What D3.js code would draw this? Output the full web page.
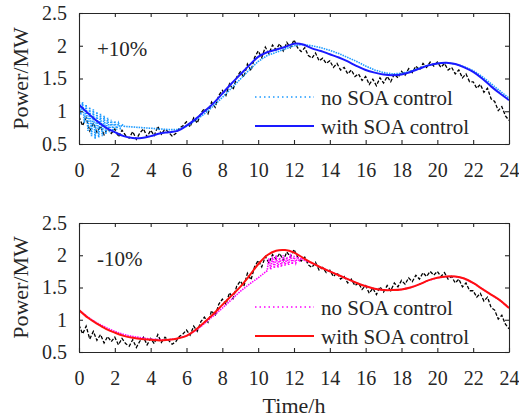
<!DOCTYPE html>
<html>
<head>
<meta charset="utf-8">
<script src="https://cdnjs.cloudflare.com/ajax/libs/d3/7.8.5/d3.min.js"></script>
<style>
  body { margin: 0; background: #fff; }
</style>
</head>
<body>
<div class="chart"></div>
<script>

// actual load, every 0.2 h from 0 to 24
var loadValues = [
  0.92, 0.78, 0.90, 0.70, 0.82,
  0.68, 0.77, 0.64, 0.74, 0.66,
  0.73, 0.61, 0.71, 0.63, 0.59,
  0.69, 0.57, 0.67, 0.73, 0.61,
  0.71, 0.63, 0.77, 0.65, 0.73,
  0.68, 0.62, 0.66, 0.74, 0.78,
  0.84, 0.76, 0.90, 0.82, 0.97,
  1.04, 0.96, 1.14, 1.06, 1.24,
  1.32, 1.24, 1.42, 1.33, 1.52,
  1.60, 1.52, 1.72, 1.62, 1.82,
  1.92, 1.82, 1.98, 1.88, 2.01,
  1.94, 2.03, 1.92, 2.05, 1.97,
  2.09, 1.97, 1.91, 1.97, 1.85,
  1.81, 1.89, 1.77, 1.81, 1.73,
  1.77, 1.67, 1.73, 1.63, 1.67,
  1.57, 1.63, 1.53, 1.57, 1.47,
  1.53, 1.41, 1.49, 1.39, 1.51,
  1.43, 1.53, 1.45, 1.57, 1.51,
  1.61, 1.55, 1.65, 1.59, 1.69,
  1.63, 1.73, 1.67, 1.75, 1.69,
  1.75, 1.67, 1.73, 1.63, 1.67,
  1.57, 1.63, 1.51, 1.57, 1.45,
  1.45, 1.35, 1.41, 1.29, 1.35,
  1.19, 1.15, 1.01, 1.07, 0.93,
  0.86
];

// with SOA control, every 0.5 h
var withSoaPlus = [
  1.10, 0.97, 0.85, 0.75, 0.68, 0.62, 0.59, 0.59, 0.62, 0.66,
  0.68, 0.70, 0.78, 0.88, 1.00, 1.12, 1.27, 1.42, 1.56, 1.70,
  1.83, 1.90, 1.94, 1.98, 2.03, 2.02, 1.96, 1.92, 1.87, 1.82,
  1.76, 1.69, 1.63, 1.59, 1.56, 1.55, 1.56, 1.60, 1.65, 1.70,
  1.73, 1.74, 1.72, 1.67, 1.60, 1.50, 1.38, 1.27, 1.17
];
var withSoaMinus = [
  1.15, 1.03, 0.94, 0.86, 0.80, 0.75, 0.72, 0.70, 0.69, 0.68,
  0.69, 0.71, 0.75, 0.84, 0.96, 1.09, 1.23, 1.37, 1.51, 1.68,
  1.86, 2.00, 2.07, 2.08, 2.04, 1.96, 1.88, 1.81, 1.75, 1.69,
  1.63, 1.57, 1.52, 1.48, 1.46, 1.46, 1.47, 1.50, 1.55, 1.61,
  1.65, 1.67, 1.67, 1.64, 1.57, 1.48, 1.39, 1.30, 1.18
];

// no SOA control, [hour, MW]
var noSoaPlus = [
  [0, 1.18], [0.1, 0.95], [0.2, 1.14], [0.3, 0.82], [0.4, 1.10], [0.5, 0.70],
  [0.6, 1.06], [0.7, 0.62], [0.8, 1.03], [0.9, 0.58], [1.0, 0.99], [1.1, 0.60],
  [1.2, 0.96], [1.3, 0.62], [1.4, 0.93], [1.5, 0.65], [1.6, 0.90], [1.7, 0.68],
  [1.8, 0.87], [1.9, 0.70], [2.0, 0.85], [2.1, 0.72], [2.2, 0.82], [2.3, 0.74],
  [2.4, 0.80], [2.5, 0.77], [3, 0.76], [3.5, 0.75], [4, 0.74], [4.5, 0.73],
  [5, 0.72], [5.5, 0.72], [6, 0.77], [6.5, 0.86], [7, 0.96], [7.5, 1.08],
  [8, 1.21], [8.5, 1.35], [9, 1.49], [9.5, 1.63], [10, 1.76], [10.5, 1.85],
  [11, 1.90], [11.5, 1.95], [12, 2.00], [12.5, 2.02], [13, 2.00], [13.5, 1.97],
  [14, 1.93], [14.5, 1.88], [15, 1.82], [15.5, 1.76], [16, 1.69], [16.5, 1.63],
  [17, 1.59], [17.5, 1.57], [18, 1.58], [18.5, 1.61], [19, 1.66], [19.5, 1.70],
  [20, 1.73], [20.5, 1.74], [21, 1.72], [21.5, 1.68], [22, 1.62], [22.5, 1.53],
  [23, 1.42], [23.5, 1.31], [24, 1.20]
];
var noSoaMinus = [
  [0, 1.15], [0.5, 1.04], [1, 0.95], [1.5, 0.88], [2, 0.82], [2.5, 0.77],
  [3, 0.74], [3.5, 0.72], [4, 0.70], [4.5, 0.69], [5, 0.69], [5.5, 0.71],
  [6, 0.75], [6.5, 0.83], [7, 0.94], [7.5, 1.06], [8, 1.18], [8.5, 1.31],
  [9, 1.44], [9.5, 1.55], [10, 1.65], [10.5, 1.76], [10.6, 1.95], [10.7, 1.78],
  [10.8, 1.98], [10.9, 1.80], [11.0, 2.00], [11.1, 1.81], [11.2, 1.96], [11.3, 1.82],
  [11.4, 2.00], [11.5, 1.84], [11.6, 1.97], [11.7, 1.85], [11.8, 2.02], [11.9, 1.86],
  [12.0, 1.99], [12.1, 1.88], [12.2, 1.98], [12.3, 1.90], [12.4, 1.96], [12.5, 1.93],
  [13, 1.88], [13.5, 1.81], [14, 1.75], [14.5, 1.69], [15, 1.63], [15.5, 1.57],
  [16, 1.52], [16.5, 1.48], [17, 1.46], [17.5, 1.46], [18, 1.47], [18.5, 1.50],
  [19, 1.55], [19.5, 1.61], [20, 1.65], [20.5, 1.67], [21, 1.67], [21.5, 1.64],
  [22, 1.57], [22.5, 1.48], [23, 1.39], [23.5, 1.30], [24, 1.18]
];

var xTicks = [0, 2, 4, 6, 8, 10, 12, 14, 16, 18, 20, 22, 24];
var yTicks = [0.5, 1, 1.5, 2, 2.5];
var legendLabels = ["no SOA control", "with SOA control"];

var svgWidth = 519;
var svgHeight = 419;
var left = 79, right = 509;
var serif = "'Liberation Serif', 'Times New Roman', serif";

var svg = d3.select(".chart").append("svg")
  .attr("width", svgWidth)
  .attr("height", svgHeight);

var loadPts = loadValues.map(function(v, i) { return [i * 0.2, v]; });

function label(sel, size) {
  return sel.style("font-family", serif)
    .style("font-size", size + "px")
    .style("fill", "#262626");
}

function drawPanel(id, top, bottom, tag, noSoa, withSoa, noColor, withColor) {
  var x = d3.scaleLinear().domain([0, 24]).range([left, right]);
  var y = d3.scaleLinear().domain([0.5, 2.5]).range([bottom, top]);
  var g = svg.append("g");

  g.append("clipPath").attr("id", id)
    .append("rect")
    .attr("x", left).attr("y", top)
    .attr("width", right - left).attr("height", bottom - top);

  var line = d3.line()
    .x(function(d) { return x(d[0]); })
    .y(function(d) { return y(d[1]); });
  var smooth = d3.line()
    .curve(d3.curveCatmullRom)
    .x(function(d, i) { return x(i * 0.5); })
    .y(function(d) { return y(d); });

  var plot = g.append("g").attr("clip-path", "url(#" + id + ")");

  plot.append("path")
    .attr("d", line(loadPts))
    .attr("fill", "none")
    .attr("stroke", "#000")
    .attr("stroke-width", 1.3)
    .attr("stroke-dasharray", "3.5,1.8");

  plot.append("path")
    .attr("d", line(noSoa))
    .attr("fill", "none")
    .attr("stroke", noColor)
    .attr("stroke-width", 1.6)
    .attr("stroke-dasharray", "1.5,1");

  plot.append("path")
    .attr("d", smooth(withSoa))
    .attr("fill", "none")
    .attr("stroke", withColor)
    .attr("stroke-width", 2);

  // axes, ticks inside on all four sides
  var fmt = function(d) { return String(d); };
  var ax = g.append("g").attr("transform", "translate(0," + bottom + ")")
    .call(d3.axisBottom(x).tickValues(xTicks).tickFormat(fmt)
      .tickSize(-4).tickSizeOuter(0).tickPadding(19));
  var ay = g.append("g").attr("transform", "translate(" + left + ",0)")
    .call(d3.axisLeft(y).tickValues(yTicks).tickFormat(fmt)
      .tickSize(-4).tickSizeOuter(0).tickPadding(12));
  var at = g.append("g").attr("transform", "translate(0," + top + ")")
    .call(d3.axisTop(x).tickValues(xTicks).tickFormat("")
      .tickSize(-4).tickSizeOuter(0));
  var ar = g.append("g").attr("transform", "translate(" + right + ",0)")
    .call(d3.axisRight(y).tickValues(yTicks).tickFormat("")
      .tickSize(-4).tickSizeOuter(0));

  [ax, ay, at, ar].forEach(function(a) {
    a.attr("font-family", null).attr("font-size", null);
    a.selectAll("path, line").attr("stroke", "#262626").attr("stroke-width", 1.1);
    label(a.selectAll("text"), 20);
  });

  label(g.append("text"), 22)
    .attr("transform", "translate(28," + ((top + bottom) / 2) + ") rotate(-90)")
    .attr("text-anchor", "middle")
    .text("Power/MW");

  label(g.append("text"), 21)
    .attr("x", 97).attr("y", top + 43)
    .text(tag);

  // legend
  var rows = [
    { label: legendLabels[0], color: noColor, dash: "1.5,3", width: 1.6 },
    { label: legendLabels[1], color: withColor, dash: null, width: 2 }
  ];
  rows.forEach(function(r, i) {
    var base = top + 92 + i * 29;
    g.append("line")
      .attr("x1", 255).attr("x2", 314)
      .attr("y1", base - 8).attr("y2", base - 8)
      .attr("stroke", r.color)
      .attr("stroke-width", r.width)
      .attr("stroke-dasharray", r.dash);
    label(g.append("text"), 21)
      .attr("x", 321).attr("y", base)
      .text(r.label);
  });
}

drawPanel("clipTop", 13, 144, "+10%", noSoaPlus, withSoaPlus, "#1e9bff", "#1a1aff");
drawPanel("clipBottom", 223, 352, "-10%", noSoaMinus, withSoaMinus, "#ff00ff", "#ff1010");

label(svg.append("text"), 22)
  .attr("x", (left + right) / 2)
  .attr("y", 413)
  .attr("text-anchor", "middle")
  .text("Time/h");

</script>
</body>
</html>
